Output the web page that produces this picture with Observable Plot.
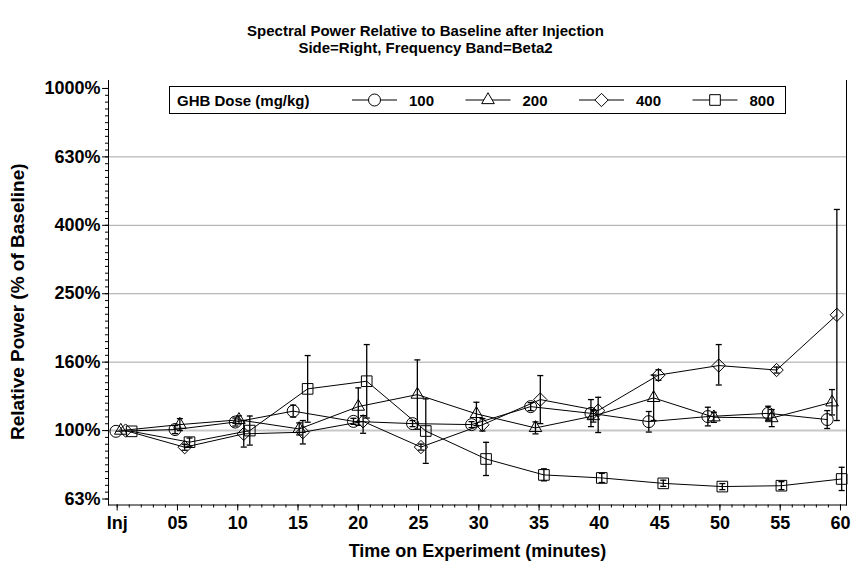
<!DOCTYPE html>
<html><head><meta charset="utf-8">
<script src="https://cdn.jsdelivr.net/npm/d3@7"></script>
<script src="https://cdn.jsdelivr.net/npm/@observablehq/plot@0.6"></script>
<style>
body{margin:0;background:#fff;font-family:"Liberation Sans",Arial,sans-serif;}
#wrap{position:relative;width:851px;height:567px;overflow:hidden;background:#fff}
#title{position:absolute;left:0;top:22px;width:851px;text-align:center;font-weight:bold;font-size:15px;line-height:17px;color:#000}
#chart{position:absolute;left:0;top:62px}
#legend{position:absolute;left:169px;top:86px}
</style></head><body>
<div id="wrap">
<div id="title">Spectral Power Relative to Baseline after Injection<br>Side=Right, Frequency Band=Beta2</div>
<div id="chart"></div>
<div id="legend"></div>
</div>
<script>
// ---- data ----
const doses = ["100", "200", "400", "800"];
const legendTitle = "GHB Dose (mg/kg)";

const time100  = [-0.1, 4.8, 9.8, 14.6, 19.6, 24.5, 29.4, 34.3, 39.3, 44.1, 49.0, 54.0, 58.9];
const power100 = [99.5, 100.7, 105.9, 114.0, 106.4, 104.8, 104.1, 117.5, 112.3, 106.2, 109.9, 112.3, 107.7];
const low100   = [null, 98.0, 103.1, 109.5, 104.3, 102.7, 102.0, 114.4, 102.7, 99.0, 103.2, 107.2, 101.4];
const high100  = [null, 103.4, 108.8, 118.7, 108.6, 107.0, 106.2, 120.7, 123.2, 113.7, 117.0, 117.8, 114.4];

const time200  = [0.3, 5.2, 10.1, 15.1, 20.0, 24.9, 29.8, 34.7, 39.5, 44.5, 49.5, 54.3, 59.3];
const power200 = [100, 104.1, 107.5, 101.1, 117.5, 127.4, 111.9, 101.8, 110.3, 124.6, 109.4, 108.8, 121.0];
const low200   = [null, 100.0, 104.6, 97.1, 103.6, 100.9, 103.4, 97.8, 105.9, 107.0, 105.7, 102.7, 111.1];
const high200  = [null, 108.4, 110.4, 105.3, 133.3, 160.9, 121.0, 106.0, 114.8, 145.3, 113.1, 115.2, 131.8];

const time400  = [0.7, 5.6, 10.5, 15.4, 20.4, 25.2, 30.3, 35.1, 39.9, 44.9, 49.9, 54.7, 59.7];
const power400 = [100, 89.4, 97.8, 98.9, 106.4, 89.5, 104.0, 123.2, 114.4, 145.3, 154.9, 150.3, 217.9];
const low400   = [null, 87.6, 89.5, 91.4, 98.2, 87.7, 99.7, 104.8, 98.7, 140.3, 135.9, 147.3, 107.0];
const high400  = [null, 91.2, 107.0, 107.0, 110.6, 91.3, 108.4, 144.8, 125.1, 150.5, 178.4, 153.3, 442.9];

const time800  = [1.2, 6.0, 11.0, 15.8, 20.7, 25.6, 30.6, 35.4, 40.2, 45.3, 50.2, 55.1, 60.1];
const power800 = [99.5, 92.5, 100, 132.4, 139.4, 99.7, 82.6, 74.2, 72.7, 70.1, 68.6, 69.0, 72.2];
const low800   = [null, 90.1, 90.7, 105.8, 108.8, 80.2, 73.9, 71.3, 70.5, 68.7, 67.2, 67.2, 66.8];
const high800  = [null, 95.1, 110.3, 165.7, 178.4, 123.8, 92.4, 77.3, 75.0, 71.6, 70.0, 70.9, 78.1];

const xTickValues = [0, 5, 10, 15, 20, 25, 30, 35, 40, 45, 50, 55, 60];
const xTickLabels = ["Inj", "05", "10", "15", "20", "25", "30", "35", "40", "45", "50", "55", "60"];
const yTickValues = [63.1, 100, 158.5, 251.2, 398.1, 631.0, 1000];
const yTickLabels = ["63%", "100%", "160%", "250%", "400%", "630%", "1000%"];
const xTitle = "Time on Experiment (minutes)";
const yTitle = "Relative Power (% of Baseline)";

// ---- build table ----
const seriesArrays = [
  [time100, power100, low100, high100],
  [time200, power200, low200, high200],
  [time400, power400, low400, high400],
  [time800, power800, low800, high800]
];
const rows = [];
doses.forEach((d, i) => {
  const [T, P, L, H] = seriesArrays[i];
  T.forEach((t, j) => rows.push({dose: d, t, v: P[j], lo: L[j], hi: H[j]}));
});
const errRows = rows.filter(r => r.lo != null);

const symbolNames = ["circle", "triangle2", "diamond2", "square"];
const capSymbol = {draw(ctx, size) { const w = Math.sqrt(size) / 2; ctx.moveTo(-w, 0); ctx.lineTo(w, 0); }};
const xMinor = d3.range(0, 61);
const yMinor = d3.range(90, 151).map(k => Math.pow(10, k / 50));
const font = '"Liberation Sans", Arial, sans-serif';

const chart = Plot.plot({
  width: 851, height: 505,
  marginLeft: 108, marginRight: 5, marginTop: 18, marginBottom: 62.5,
  style: {fontFamily: font, color: "#000", background: "#fff", overflow: "visible"},
  x: {domain: [-0.72, 60.5]},
  y: {type: "log", domain: [60.6, 1055]},
  symbol: {domain: doses, range: symbolNames},
  marks: [
    Plot.gridY(yTickValues.slice(2, -1), {stroke: "#a6a6a6", strokeOpacity: 1}),
    Plot.gridY(yTickValues.slice(1, 2), {stroke: "#c8c8c8", strokeOpacity: 1, strokeWidth: 2}),
    Plot.frame({anchor: "left", stroke: "#000"}),
    Plot.frame({anchor: "bottom", stroke: "#000"}),
    Plot.frame({anchor: "right", stroke: "#000"}),
    Plot.axisX({ticks: xMinor, tickSize: 3, fill: "none", label: null}),
    Plot.axisX({ticks: xTickValues, tickSize: 6, tickPadding: 5, tickFormat: d => xTickLabels[xTickValues.indexOf(d)],
      fontSize: 18, fontWeight: "bold", label: null}),
    Plot.axisY({ticks: yMinor, tickSize: 3, fill: "none", label: null}),
    Plot.axisY({ticks: yTickValues, tickSize: 6, tickPadding: 2, tickFormat: d => yTickLabels[yTickValues.indexOf(d)],
      fontSize: 18, fontWeight: "bold", label: null}),
    Plot.text([xTitle], {frameAnchor: "bottom", textAnchor: "middle", dy: 52, fontSize: 18, fontWeight: "bold"}),
    Plot.text([yTitle], {frameAnchor: "left", textAnchor: "middle", rotate: -90, dx: -91, dy: 9, fontSize: 19, fontWeight: "bold"}),
    Plot.line(rows, {x: "t", y: "v", z: "dose", stroke: "#000", strokeWidth: 1}),
    Plot.ruleX(errRows, {x: "t", y1: "lo", y2: "hi", stroke: "#000", strokeWidth: 1.3}),
    Plot.dot(errRows, {x: "t", y: "lo", symbol: capSymbol, r: 3.4, stroke: "#000", fill: "none", strokeWidth: 1.3}),
    Plot.dot(errRows, {x: "t", y: "hi", symbol: capSymbol, r: 3.4, stroke: "#000", fill: "none", strokeWidth: 1.3}),
    Plot.dot(rows, {x: "t", y: "v", symbol: "dose", r: 6, stroke: "#000", fill: "none", strokeWidth: 1})
  ]
});
document.getElementById("chart").appendChild(chart);

// ---- legend (box inside plot area) ----
const lw = 617, lh = 28;
const lsvg = d3.select("#legend").append("svg").attr("width", lw).attr("height", lh)
  .style("font-family", font).style("overflow", "visible");
lsvg.append("rect").attr("x", 0.5).attr("y", 0.5).attr("width", lw - 1).attr("height", lh - 1)
  .attr("fill", "#fff").attr("stroke", "#000");
lsvg.append("text").attr("x", 8).attr("y", 19.5).attr("font-size", 15).attr("font-weight", "bold").text(legendTitle);
const d3syms = {circle: d3.symbolCircle, triangle2: d3.symbolTriangle2, diamond2: d3.symbolDiamond2, square: d3.symbolSquare};
doses.forEach((d, i) => {
  const x0 = 183 + i * 113.5;
  const g = lsvg.append("g");
  g.append("line").attr("x1", x0).attr("x2", x0 + 45).attr("y1", 14).attr("y2", 14).attr("stroke", "#000");
  g.append("path").attr("transform", `translate(${x0 + 22.5},14)`)
    .attr("d", d3.symbol(d3syms[symbolNames[i]], Math.PI * 36)())
    .attr("fill", "#fff").attr("stroke", "#000");
  g.append("text").attr("x", x0 + 57).attr("y", 19.5).attr("font-size", 15).attr("font-weight", "bold").text(d);
});
</script>
</body></html>
